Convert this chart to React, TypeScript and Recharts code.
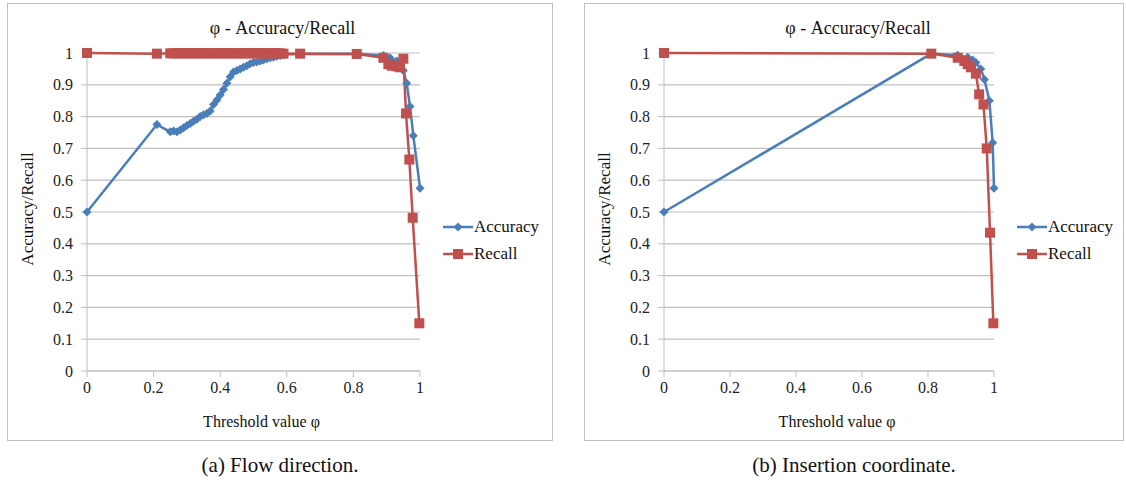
import { LineChart, Line, XAxis, YAxis, CartesianGrid } from "recharts"

const FONT = "'Liberation Serif', 'DejaVu Serif', serif"
const BLUE = "#4a7ebb"
const RED = "#c0504d"
const GRID = "#bfbfbf"

const xTicks = [0, 0.2, 0.4, 0.6, 0.8, 1]
const yTicks = [0, 0.1, 0.2, 0.3, 0.4, 0.5, 0.6, 0.7, 0.8, 0.9, 1]

// (a) flow direction
const flowAccuracy = [
  [0, 0.5], [0.21, 0.775], [0.25, 0.752], [0.26, 0.755], [0.27, 0.752], [0.28, 0.758],
  [0.29, 0.765], [0.3, 0.772], [0.31, 0.778], [0.32, 0.785], [0.33, 0.792], [0.34, 0.8],
  [0.35, 0.806], [0.36, 0.81], [0.37, 0.818], [0.38, 0.838], [0.39, 0.852], [0.4, 0.868],
  [0.41, 0.885], [0.42, 0.905], [0.43, 0.925], [0.44, 0.94], [0.45, 0.945], [0.46, 0.95],
  [0.47, 0.955], [0.48, 0.96], [0.49, 0.966], [0.5, 0.97], [0.51, 0.972], [0.52, 0.975],
  [0.53, 0.978], [0.54, 0.982], [0.55, 0.985], [0.56, 0.987], [0.57, 0.99], [0.58, 0.992],
  [0.59, 0.995], [0.64, 0.997], [0.81, 0.998], [0.89, 0.992], [0.91, 0.985], [0.93, 0.975],
  [0.95, 0.945], [0.96, 0.905], [0.97, 0.832], [0.98, 0.74], [1.0, 0.575],
]
const flowRecall = [
  [0, 1], [0.21, 0.998], [0.25, 0.999], [0.26, 0.999], [0.27, 0.999], [0.28, 0.999],
  [0.29, 0.999], [0.3, 0.999], [0.31, 0.999], [0.32, 0.999], [0.33, 0.999], [0.34, 0.999],
  [0.35, 0.999], [0.36, 0.999], [0.37, 0.999], [0.38, 0.999], [0.39, 0.999], [0.4, 0.999],
  [0.41, 0.999], [0.42, 0.999], [0.43, 0.999], [0.44, 0.999], [0.45, 0.999], [0.46, 0.999],
  [0.47, 0.999], [0.48, 0.999], [0.49, 0.999], [0.5, 0.999], [0.51, 0.999], [0.52, 0.999],
  [0.53, 0.999], [0.54, 0.999], [0.55, 0.999], [0.56, 0.999], [0.57, 0.999], [0.58, 0.999],
  [0.59, 0.998], [0.64, 0.998], [0.81, 0.997], [0.89, 0.985], [0.905, 0.965], [0.915, 0.96],
  [0.93, 0.958], [0.94, 0.955], [0.95, 0.982], [0.958, 0.81], [0.968, 0.665], [0.978, 0.482],
  [0.998, 0.15],
]

// (b) insertion coordinate
const insAccuracy = [
  [0, 0.5], [0.81, 0.998], [0.89, 0.993], [0.92, 0.987], [0.935, 0.978], [0.945, 0.97],
  [0.96, 0.95], [0.971, 0.917], [0.986, 0.85], [0.996, 0.718], [1.0, 0.575],
]
const insRecall = [
  [0, 1], [0.81, 0.998], [0.89, 0.985], [0.91, 0.975], [0.92, 0.965], [0.93, 0.955],
  [0.945, 0.935], [0.955, 0.87], [0.968, 0.838], [0.978, 0.7], [0.988, 0.435], [0.998, 0.15],
]

const toRows = (pts: number[][]) => pts.map(([x, y]) => ({ x, y }))

const Diamond = (props: any) => {
  const { cx, cy } = props
  if (cx == null || cy == null) return null
  const r = 4.5
  return <polygon points={`${cx},${cy - r} ${cx + r},${cy} ${cx},${cy + r} ${cx - r},${cy}`} fill={BLUE} />
}

const Square = (props: any) => {
  const { cx, cy } = props
  if (cx == null || cy == null) return null
  return <rect x={cx - 5} y={cy - 5} width={10} height={10} fill={RED} />
}

const tickStyle = { fill: "#222", fontSize: 16, fontFamily: FONT }

function LegendBox({ left, top }: { left: number; top: number }) {
  const item = (label: string, color: string, square: boolean, y: number) => (
    <div style={{ position: "absolute", left: 0, top: y, display: "flex", alignItems: "center", whiteSpace: "nowrap" }}>
      <svg width={30} height={12}>
        <line x1={0} y1={6} x2={30} y2={6} stroke={color} strokeWidth={2.5} />
        {square ? <rect x={10} y={1} width={10} height={10} fill={color} /> : <polygon points="15,1.5 19.5,6 15,10.5 10.5,6" fill={color} />}
      </svg>
      <span style={{ fontFamily: FONT, fontSize: 17, color: "#111", marginLeft: 1 }}>{label}</span>
    </div>
  )
  return (
    <div style={{ position: "absolute", left, top }}>
      {item("Accuracy", BLUE, false, 0)}
      {item("Recall", RED, true, 27)}
    </div>
  )
}

function Panel({ left, width, acc, rec, plotRight, caption }: {
  left: number; width: number; acc: number[][]; rec: number[][]; plotRight: number; caption: string
}) {
  const height = 438
  const text = (s: string, x: number, y: number, size: number, rotate = false) => (
    <div style={{
      position: "absolute", left: x, top: y, transform: `translate(-50%, -50%)${rotate ? " rotate(-90deg)" : ""}`,
      fontFamily: FONT, fontSize: size, color: "#111", whiteSpace: "nowrap",
    }}>{s}</div>
  )
  return (
    <>
      <div style={{ position: "absolute", left, top: 3, width, height, boxSizing: "border-box", border: `1.5px solid ${GRID}` }}>
        <LineChart width={width} height={height} margin={{ top: 49, right: width - plotRight, bottom: 41, left: 0 }}>
          <CartesianGrid vertical={false} stroke={GRID} strokeWidth={1.2} />
          <XAxis dataKey="x" type="number" domain={[0, 1]} ticks={xTicks} height={30}
            stroke={GRID} tickSize={6} tickMargin={5} tick={tickStyle} />
          <YAxis type="number" domain={[0, 1]} ticks={yTicks} width={79}
            stroke={GRID} tickSize={6} tickMargin={8} tick={tickStyle} />
          <Line data={toRows(acc)} dataKey="y" type="linear" stroke={BLUE} strokeWidth={2.5}
            dot={<Diamond />} activeDot={false} isAnimationActive={false} />
          <Line data={toRows(rec)} dataKey="y" type="linear" stroke={RED} strokeWidth={2.5}
            dot={<Square />} activeDot={false} isAnimationActive={false} />
        </LineChart>
        {text("φ - Accuracy/Recall", (79 + plotRight) / 2 + 29, 24, 18)}
        {text("Accuracy/Recall", 20, 205, 17, true)}
        {text("Threshold value  φ", (79 + plotRight) / 2 + 8, 418, 16)}
        <LegendBox left={plotRight + 23} top={213} />
      </div>
      {text(caption, left + width / 2, 465, 21)}
    </>
  )
}

export default function App() {
  return (
    <div style={{ position: "absolute", left: 0, top: 0, width: 1126, height: 487, background: "#fff", overflow: "hidden" }}>
      <Panel left={7} width={546} acc={flowAccuracy} rec={flowRecall} plotRight={412} caption="(a) Flow direction." />
      <Panel left={584} width={540} acc={insAccuracy} rec={insRecall} plotRight={409} caption="(b) Insertion coordinate." />
    </div>
  )
}
